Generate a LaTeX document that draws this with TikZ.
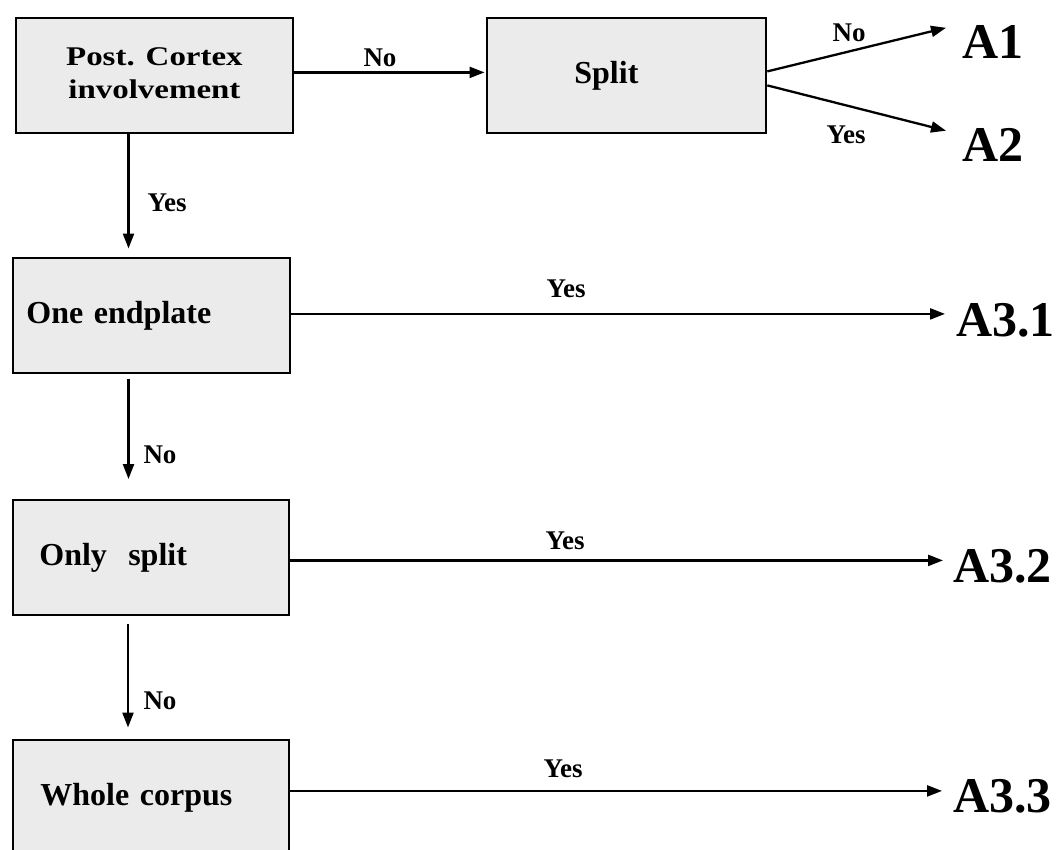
\documentclass[tikz,border=0pt]{standalone}
\usepackage{fontspec}
\setmainfont{Liberation Serif}
\usepackage{graphicx}
\usetikzlibrary{arrows.meta}
\definecolor{boxgray}{gray}{0.92}
\begin{document}
\begin{tikzpicture}[x=1pt,y=-1pt,
  stepbox/.style={draw=black, fill=boxgray, line width=2.8pt, anchor=north west,
    minimum height=115pt, inner ysep=0pt, align=left,
    font=\fontsize{32}{38}\selectfont\bfseries},
  edgelabel/.style={anchor=base, inner sep=0pt, font=\fontsize{27}{30}\selectfont\bfseries},
  outcome/.style={anchor=base west, inner sep=0pt, font=\fontsize{50}{56}\selectfont\bfseries},
  arr/.style={line width=2.3pt, -{Triangle[length=15pt,width=11pt]}}
]
\useasboundingbox (0,0) rectangle (1062,849);
\clip (0,0) rectangle (1062,849);

% decision boxes
\node[stepbox, minimum width=277pt, align=center, inner xsep=0pt] (b1) at (14.5,16.5)
  {\fontsize{27}{32.5}\selectfont\raisebox{-3pt}{\scalebox{1.22}[1]{\begin{tabular}{@{}c@{}}Post. Cortex\\involvement\end{tabular}}}};
\node[stepbox, minimum width=279pt, text width=104pt, inner xsep=87.5pt] (sp) at (485.5,16.5) {Split};
\node[stepbox, minimum width=277pt, text width=250pt, inner xsep=13.5pt] (b2) at (11.5,256.5) {One endplate};
\node[stepbox, minimum width=276pt, text width=223pt, inner xsep=26.5pt] (b3) at (11.5,498.5) {\raisebox{-5pt}{Only\ \ split}};
\node[stepbox, minimum width=276pt, text width=221pt, inner xsep=27.5pt] (b4) at (11.5,738.5) {Whole corpus};

% outcomes
\node[outcome] (a1) at (962,58) {A1};
\node[outcome] (a2) at (962,161) {A2};
\node[outcome] (a31) at (956,336) {A3.1};
\node[outcome] (a32) at (953,582) {A3.2};
\node[outcome] (a33) at (953,812) {A3.3};

% top row
\coordinate (e1) at ([yshift=3pt]b1.east);
\draw[arr, shorten >=1pt] (e1) -- (e1 -| sp.west);
\draw[arr] ([yshift=4pt]sp.east) -- ([xshift=-16pt,yshift=-3pt]a1.north west);
\draw[arr] ([yshift=-10pt]sp.east) -- ([xshift=-16pt,yshift=-3pt]a2.north west);

% vertical chain
\coordinate (d1) at ([xshift=114pt]b1.south west);
\draw[arr, shorten >=8pt] (d1) -- (d1 |- b2.north);
\coordinate (d2) at ([xshift=117pt,yshift=-4.5pt]b2.south west);
\draw[arr, shorten >=19.5pt] (d2) -- (d2 |- b3.north);
\coordinate (d3) at ([xshift=116.5pt,yshift=-8pt]b3.south west);
\draw[arr, shorten >=11pt] (d3) -- (d3 |- b4.north);

% horizontal exits
\coordinate (h2) at ([yshift=1.5pt]b2.east);
\draw[arr, shorten >=11pt] (h2) -- (h2 -| a31.west);
\coordinate (h3) at ([yshift=-3pt]b3.east);
\draw[arr, shorten >=10pt] (h3) -- (h3 -| a32.west);
\coordinate (h4) at ([yshift=6.5pt]b4.east);
\draw[arr, shorten >=11pt] (h4) -- (h4 -| a33.west);

% connector labels
\node[edgelabel] (l1) at (380,66) {No};
\node[edgelabel] (l2) at (849,41) {No};
\node[edgelabel] (l3) at (846,143) {Yes};
\node[edgelabel] (l4) at (167,211) {Yes};
\node[edgelabel] (l5) at (566,297) {Yes};
\node[edgelabel] (l6) at (160,463) {No};
\node[edgelabel] (l7) at (565,549) {Yes};
\node[edgelabel] (l8) at (160,709) {No};
\node[edgelabel] (l9) at (563,777) {Yes};
\end{tikzpicture}
\end{document}
